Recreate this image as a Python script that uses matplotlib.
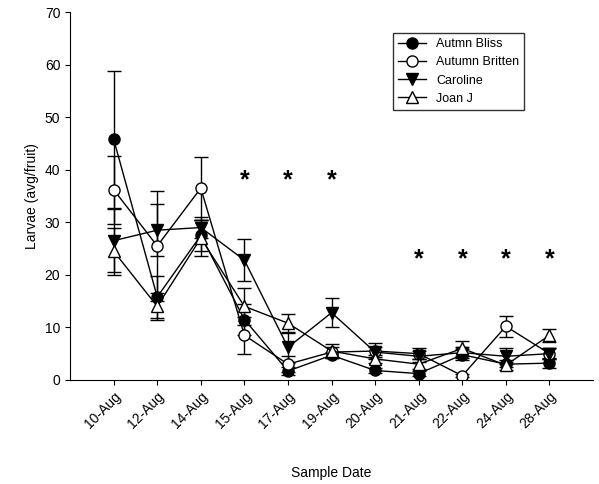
import numpy as np
import matplotlib.pyplot as plt
from matplotlib.lines import Line2D

plt.rcParams['font.family'] = ['Liberation Sans', 'DejaVu Sans']

dates = ['10-Aug', '12-Aug', '14-Aug', '15-Aug', '17-Aug', '19-Aug', '20-Aug',
         '21-Aug', '22-Aug', '24-Aug', '28-Aug']

bliss = [45.8, 15.8, 27.5, 11.5, 1.7, 4.7, 1.8, 1.2, 4.8, 3.0, 3.2]
bliss_err = [13, 4, 3, 3, 0.8, 0.6, 0.5, 0.5, 1, 0.5, 1]
britten = [36.2, 25.5, 36.5, 8.5, 3.0, 5.3, 5.5, 5.0, 0.8, 10.2, 5.0]
britten_err = [6.5, 10.5, 6, 3.5, 1.5, 1, 1.5, 1, 0.3, 2, 1]
caroline = [26.5, 28.5, 29.0, 22.8, 6.2, 12.8, 5.3, 4.5, 5.2, 4.5, 5.0]
caroline_err = [6, 5, 2, 4, 3, 2.8, 1, 1, 1, 1.5, 1]
joan = [24.5, 14.0, 27.0, 14.0, 10.8, 5.5, 4.0, 3.0, 6.0, 2.8, 8.5]
joan_err = [4.5, 2.5, 3.5, 3.5, 1.8, 1.3, 0.8, 1, 1.5, 1, 1.2]

star_hi = [3, 4, 5]
star_lo = [7, 8, 9, 10]

x = np.arange(len(dates))

fig, ax = plt.subplots(figsize=(5.99, 4.84), dpi=100)
kw = dict(color='black', lw=1, ms=8, capsize=5, elinewidth=1, mec='black')
series = [(bliss, bliss_err, 'o', 'black', 'Autmn Bliss'),
          (britten, britten_err, 'o', 'white', 'Autumn Britten'),
          (caroline, caroline_err, 'v', 'black', 'Caroline'),
          (joan, joan_err, '^', 'white', 'Joan J')]
handles = []
for y, e, m, fc, lab in series:
    ax.errorbar(x, y, yerr=e, marker=m, mfc=fc, **kw)
    handles.append(Line2D([], [], color='black', lw=1, marker=m, mfc=fc,
                          mec='black', ms=8, label=lab))

for i in star_hi:
    ax.text(i, 38, '*', ha='center', va='center', fontsize=18, fontweight='bold')
for i in star_lo:
    ax.text(i, 23, '*', ha='center', va='center', fontsize=18, fontweight='bold')

ax.set_xlim(-1, 11)
ax.set_ylim(0, 70)
ax.set_xticks(x)
ax.set_xticklabels(dates, rotation=45, ha='right', rotation_mode='anchor')
ax.set_yticks(range(0, 71, 10))
ax.set_xlabel('Sample Date', labelpad=25)
ax.set_ylabel('Larvae (avg/fruit)')
ax.spines['top'].set_visible(False)
ax.spines['right'].set_visible(False)
ax.legend(handles=handles, loc='upper right', bbox_to_anchor=(0.88, 0.96),
          fancybox=False, edgecolor='black', fontsize=9, handlelength=2.2)
fig.subplots_adjust(left=0.117, right=0.99, top=0.975, bottom=0.215)
fig.savefig('out.png')
